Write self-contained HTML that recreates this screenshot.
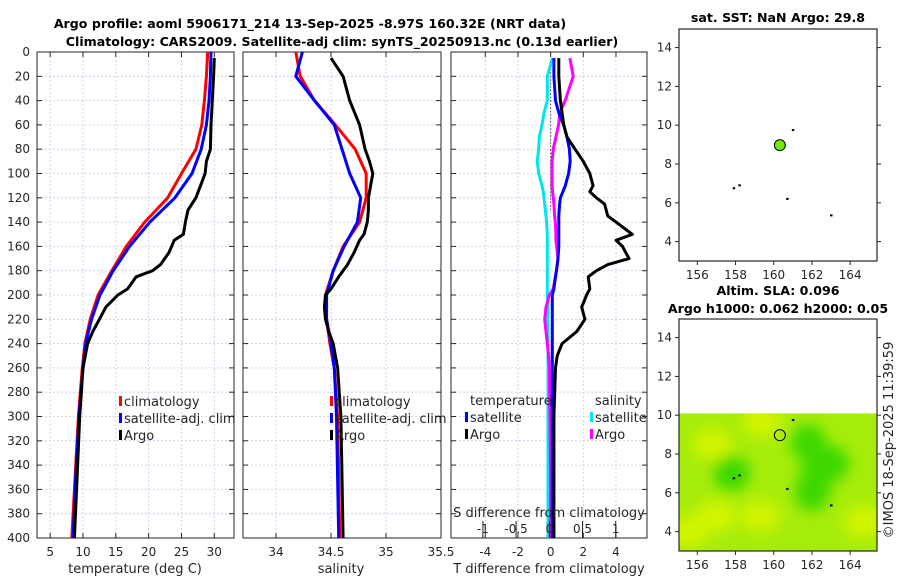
<!DOCTYPE html>
<html><head><meta charset="utf-8"><title>Argo profile</title>
<style>
html,body{margin:0;padding:0;background:#fff;}
svg{display:block;font-family:"DejaVu Sans","Liberation Sans",sans-serif;}
.tk{font-size:12px;fill:#262626;}
.ttl{font-size:12.6px;font-weight:bold;fill:#000;}
</style></head>
<body>
<svg id="chart" width="900" height="580" viewBox="0 0 900 580" xmlns="http://www.w3.org/2000/svg">
<defs>
<filter id="blur" x="-20%" y="-20%" width="140%" height="140%"><feGaussianBlur stdDeviation="7"/></filter>
<clipPath id="mapclip"><rect x="679" y="319" width="198" height="232"/></clipPath>
</defs>
<text class="ttl" x="310" y="28" text-anchor="middle">Argo profile: aoml 5906171_214 13-Sep-2025 -8.97S 160.32E (NRT data)</text>
<text class="ttl" x="342" y="46" text-anchor="middle">Climatology: CARS2009. Satellite-adj clim: synTS_20250913.nc (0.13d earlier)</text>
<g id="g"></g>
</svg>
<script>
// ---- data ----
const depthClim = [0,20,40,60,80,100,120,140,160,180,200,220,240,260,300,350,400];
const tempClim  = [29.0,28.8,28.5,28.1,27.2,25.0,22.9,19.4,16.6,14.4,12.3,11.1,10.3,9.9,9.3,8.8,8.3];
const tempSat   = [29.5,29.4,29.2,28.8,28.0,26.6,24.0,20.2,17.1,14.6,12.6,11.3,10.4,10.0,9.4,8.9,8.5];
const salClim   = [34.18,34.22,34.35,34.54,34.72,34.82,34.82,34.76,34.61,34.52,34.45,34.46,34.49,34.53,34.56,34.57,34.58];
const salSat    = [34.24,34.18,34.35,34.53,34.60,34.67,34.77,34.74,34.62,34.52,34.46,34.46,34.50,34.53,34.55,34.56,34.57];

const depthArgo = [5,20,40,60,80,90,100,110,120,130,140,150,155,165,175,180,185,195,200,210,220,230,240,260,300,350,400];
const tempArgo  = [30.0,29.9,29.7,29.5,29.4,28.8,28.6,27.9,27.2,26.0,25.6,25.3,23.9,23.1,21.8,20.6,18.1,16.8,15.3,13.5,12.5,11.5,10.7,10.0,9.5,9.1,8.7];
const salArgo   = [34.50,34.61,34.67,34.76,34.81,34.85,34.88,34.86,34.84,34.84,34.83,34.80,34.76,34.71,34.65,34.61,34.57,34.50,34.45,34.44,34.45,34.48,34.52,34.56,34.59,34.60,34.61];

const depthDiff = [5,20,40,50,60,70,80,90,100,110,115,120,125,135,140,150,155,160,170,175,180,185,195,200,210,220,230,240,250,260,300,350,400];
const dTsat  = [0.2,0.2,0.3,0.5,0.8,1.0,1.15,1.2,1.1,0.9,0.75,0.6,0.55,0.5,0.5,0.5,0.5,0.5,0.45,0.4,0.35,0.3,0.2,0.1,0.1,0.1,0.1,0.1,0.1,0.1,0.1,0.1,0.1];
const dTargo = [0.5,0.5,0.6,0.7,0.8,1.0,1.5,2.0,2.4,2.6,2.4,2.8,3.3,3.5,4.0,5.0,4.0,4.4,4.8,3.5,2.8,2.3,2.4,2.2,1.9,2.1,1.6,0.7,0.4,0.3,0.2,0.2,0.2];
const dSsat  = [0.05,-0.03,-0.03,-0.08,-0.11,-0.15,-0.16,-0.18,-0.16,-0.11,-0.09,-0.08,-0.07,-0.05,-0.04,-0.03,-0.03,-0.03,-0.03,-0.03,-0.03,-0.03,-0.03,-0.03,-0.02,-0.02,-0.02,-0.02,-0.02,-0.02,-0.02,-0.02,-0.02];
const dSargo = [0.31,0.36,0.24,0.16,0.14,0.10,0.06,0.04,0.04,0.04,0.05,0.06,0.07,0.08,0.09,0.10,0.10,0.11,0.13,0.12,0.11,0.09,0.06,0.0,-0.05,-0.07,-0.05,-0.03,-0.01,0.0,0.01,0.02,0.02];

const depthTicks = [0,20,40,60,80,100,120,140,160,180,200,220,240,260,280,300,320,340,360,380,400];
const tempTicks = [5,10,15,20,25,30];
const salTicks = [34,34.5,35,35.5];
const tdiffTicks = [-4,-2,0,2,4];
const sdiffTicks = [-1,-0.5,0,0.5,1];
const lonTicks = [156,158,160,162,164];
const latTicks = [4,6,8,10,12,14];
const argoPos = [160.32, 8.97];
const coastSpecks = [[158.2,6.9],[161.0,9.75],[160.7,6.2],[163.0,5.35],[157.9,6.75]];
const slaYellow = [[159.4,9.7],[156.8,8.5],[157.0,4.8],[159.3,4.8],[164.7,4.5],[155.5,4.0]];
const slaGreen = [[162.3,7.0],[161.8,8.6],[162.0,6.0],[163.0,7.5],[157.8,7.0]];

// ---- helpers ----
const NS = "http://www.w3.org/2000/svg";
const G = document.getElementById('g');
function mk(tag, attrs, parent){ const e=document.createElementNS(NS,tag); for(const k in attrs) e.setAttribute(k,attrs[k]); (parent||G).appendChild(e); return e; }
const yD = d => 52 + d*1.215;
const P1 = {x0:37,x1:234,v0:3,v1:33};
const P2 = {x0:243,x1:441,v0:33.7,v1:35.5};
const P3 = {x0:451,x1:647,v0:-6.1,v1:5.9};
function sx(P,v){ return P.x0 + (v-P.v0)/(P.v1-P.v0)*(P.x1-P.x0); }
const sdx = s => 549.3 + s*66.4;

function frame(P, ticks, name){
  const g = mk('g',{});
  
  
  depthTicks.forEach(d=>{ if(d>0&&d<400) mk('line',{x1:P.x0,x2:P.x1,y1:yD(d),y2:yD(d),stroke:'#c4cbe6','stroke-width':0.8,'stroke-dasharray':'2,2'},g); });
  ticks.forEach(v=>{ const x=sx(P,v); if(x>P.x0+1&&x<P.x1-1) mk('line',{x1:x,x2:x,y1:yD(0),y2:yD(400),stroke:'#c4cbe6','stroke-width':0.8,'stroke-dasharray':'2,2'},g); });
  depthTicks.forEach(d=>{ mk('line',{x1:P.x0,x2:P.x0+5,y1:yD(d),y2:yD(d),stroke:'#262626','stroke-width':1},g); mk('line',{x1:P.x1,x2:P.x1-5,y1:yD(d),y2:yD(d),stroke:'#262626','stroke-width':1},g); });
  ticks.forEach(v=>{ const x=sx(P,v); mk('line',{x1:x,x2:x,y1:yD(400),y2:yD(400)-5,stroke:'#262626','stroke-width':1},g); mk('line',{x1:x,x2:x,y1:yD(0),y2:yD(0)+5,stroke:'#262626','stroke-width':1},g);
    const t=mk('text',{x:x,y:556,'text-anchor':'middle',class:'tk'},g); t.textContent=v;   });
  mk('rect',{x:P.x0,y:yD(0),width:P.x1-P.x0,height:yD(400)-yD(0),fill:'none',stroke:'#262626','stroke-width':1},g);
  return g;
}
function line(P, depths, vals, color, name, fx){
  const pts = depths.map((d,i)=> (fx?fx(vals[i]):sx(P,vals[i])).toFixed(1)+','+yD(d).toFixed(1)).join(' ');
  const l = mk('polyline',{points:pts,fill:'none',stroke:color,'stroke-width':3,'stroke-linejoin':'round'});
  
  
}
function legItem(x,y,color,label,name){
  const g=mk('g',{});
  
  
  mk('rect',{x:x,y:y-10,width:3,height:10,fill:color},g);
  const t=mk('text',{x:x+5,y:y,class:'tk',style:'font-size:13px'},g); t.textContent=label;
}

// ---- panel 1 ----
frame(P1,tempTicks,'temperature-panel');
depthTicks.forEach(d=>{ const t=mk('text',{x:30,y:yD(d)+4,'text-anchor':'end',class:'tk'}); t.textContent=d;
  
   });
line(P1,depthClim,tempClim,'#ff0000','temp-climatology-line');
line(P1,depthClim,tempSat,'#0000ff','temp-satellite-line');
line(P1,depthArgo,tempArgo,'#000000','temp-argo-line');
let t1=mk('text',{x:135,y:573,'text-anchor':'middle',class:'tk',style:'font-size:13px'}); t1.textContent='temperature (deg C)';
 
legItem(119,406,'#ff0000','climatology','legend-climatology');
legItem(119,423,'#0000ff','satellite-adj. clim','legend-satellite');
legItem(119,440,'#000000','Argo','legend-argo');

// ---- panel 2 ----
frame(P2,salTicks,'salinity-panel');
line(P2,depthClim,salClim,'#ff0000','sal-climatology-line');
line(P2,depthClim,salSat,'#0000ff','sal-satellite-line');
line(P2,depthArgo,salArgo,'#000000','sal-argo-line');
let t2=mk('text',{x:341,y:573,'text-anchor':'middle',class:'tk',style:'font-size:13px'}); t2.textContent='salinity';
 
legItem(330,406,'#ff0000','climatology','legend-climatology-2');
legItem(330,423,'#0000ff','satellite-adj. clim','legend-satellite-2');
legItem(330,440,'#000000','Argo','legend-argo-2');

// ---- panel 3 ----
frame(P3,tdiffTicks,'difference-panel');
const z = mk('line',{x1:sx(P3,0),x2:sx(P3,0),y1:yD(8),y2:yD(130),stroke:'#444','stroke-width':1,'stroke-dasharray':'1.5,2'});
 
line(P3,depthDiff,dSsat,'#00e5ee','sdiff-satellite-line',sdx);
line(P3,depthDiff,dSargo,'#ff00ff','sdiff-argo-line',sdx);
line(P3,depthDiff,dTsat,'#0000ff','tdiff-satellite-line');
line(P3,depthDiff,dTargo,'#000000','tdiff-argo-line');
sdiffTicks.forEach(v=>{ const x=sdx(v); mk('line',{x1:x,x2:x,y1:521,y2:538,stroke:'#262626','stroke-width':1});
  const t=mk('text',{x:x,y:533,'text-anchor':'middle',class:'tk'}); t.textContent=v;
    });
let t3=mk('text',{x:549,y:517,'text-anchor':'middle',class:'tk',style:'font-size:13px'}); t3.textContent='S difference from climatology';
 
let t4=mk('text',{x:549,y:573,'text-anchor':'middle',class:'tk',style:'font-size:13px'}); t4.textContent='T difference from climatology';
 
let t5=mk('text',{x:470,y:405,class:'tk',style:'font-size:13px'}); t5.textContent='temperature';
 
let t6=mk('text',{x:595,y:405,class:'tk',style:'font-size:13px'}); t6.textContent='salinity';
 
legItem(465,422,'#0000ff','satellite','legend-t-satellite');
legItem(465,439,'#000000','Argo','legend-t-argo');
legItem(590,422,'#00e5ee','satellite','legend-s-satellite');
legItem(590,439,'#ff00ff','Argo','legend-s-argo');

// ---- maps ----
function mapAxes(top, name){
  const M = {x0:679,x1:877,y0:top,y1:top+232};
  M.lx = v => M.x0 + (v-155.04)*19.1;
  M.ly = v => M.y1 - (v-3.0)*19.4;
  const g=mk('g',{});
  
  
  M.g=g;
  return M;
}
function mapFrame(M){
  const g=M.g;
  lonTicks.forEach(v=>{ const x=M.lx(v); mk('line',{x1:x,x2:x,y1:M.y1,y2:M.y1+4,stroke:'#262626'},g);
    const t=mk('text',{x:x,y:M.y1+18,'text-anchor':'middle',class:'tk'},g); t.textContent=v; });
  latTicks.forEach(v=>{ const y=M.ly(v); mk('line',{x1:M.x0,x2:M.x0-4,y1:y,y2:y,stroke:'#262626'},g); mk('line',{x1:M.x1,x2:M.x1+4,y1:y,y2:y,stroke:'#262626'},g);
    const t=mk('text',{x:M.x0-7,y:y+4,'text-anchor':'end',class:'tk'},g); t.textContent=v; });
  mk('rect',{x:M.x0,y:M.y0,width:M.x1-M.x0,height:M.y1-M.y0,fill:'none',stroke:'#262626','stroke-width':1.2},g);
  coastSpecks.forEach(p=>{ const s=mk('rect',{x:M.lx(p[0])-1,y:M.ly(p[1])-1,width:2.5,height:2,fill:'#000'},g);
      });
}
const M1 = mapAxes(29,'sst-map');
let tm1=mk('text',{x:778,y:22,'text-anchor':'middle',class:'ttl'}); tm1.textContent='sat. SST: NaN Argo: 29.8';
 
mapFrame(M1);
const c1=mk('circle',{cx:M1.lx(argoPos[0]),cy:M1.ly(argoPos[1]),r:5.5,fill:'#6ee80e',stroke:'#000','stroke-width':1},M1.g);
 

const M2 = mapAxes(319,'sla-map');
let tm2=mk('text',{x:778,y:295,'text-anchor':'middle',class:'ttl'}); tm2.textContent='Altim. SLA: 0.096';
 
let tm3=mk('text',{x:778,y:313,'text-anchor':'middle',class:'ttl'}); tm3.textContent='Argo h1000: 0.062 h2000: 0.05';
 
const field = mk('g',{'clip-path':'url(#mapclip)'},M2.g);
 
const fy = M2.ly(10.1);
const fg = mk('g',{},field);
mk('rect',{x:M2.x0,y:fy,width:198,height:M2.y1-fy,fill:'#a6ec0a'},fg);
const blobs = mk('g',{filter:'url(#blur)'},fg);
slaYellow.forEach(p=>{ mk('ellipse',{cx:M2.lx(p[0]),cy:M2.ly(p[1]),rx:20,ry:16,fill:'#d2f400'},blobs); });
slaGreen.forEach(p=>{ mk('ellipse',{cx:M2.lx(p[0]),cy:M2.ly(p[1]),rx:18,ry:18,fill:'#3cd806'},blobs); });
mk('rect',{x:M2.x0-20,y:fy-40,width:240,height:40,fill:'#fff'},field);
mapFrame(M2);
const c2=mk('circle',{cx:M2.lx(argoPos[0]),cy:M2.ly(argoPos[1]),r:5.5,fill:'none',stroke:'#000','stroke-width':1},M2.g);
 

let cr=mk('text',{x:893,y:440,'text-anchor':'middle',class:'tk',transform:'rotate(-90 893 440)',style:'font-size:13px'}); cr.textContent='©IMOS 18-Sep-2025 11:39:59';
 
</script>
</body></html>
